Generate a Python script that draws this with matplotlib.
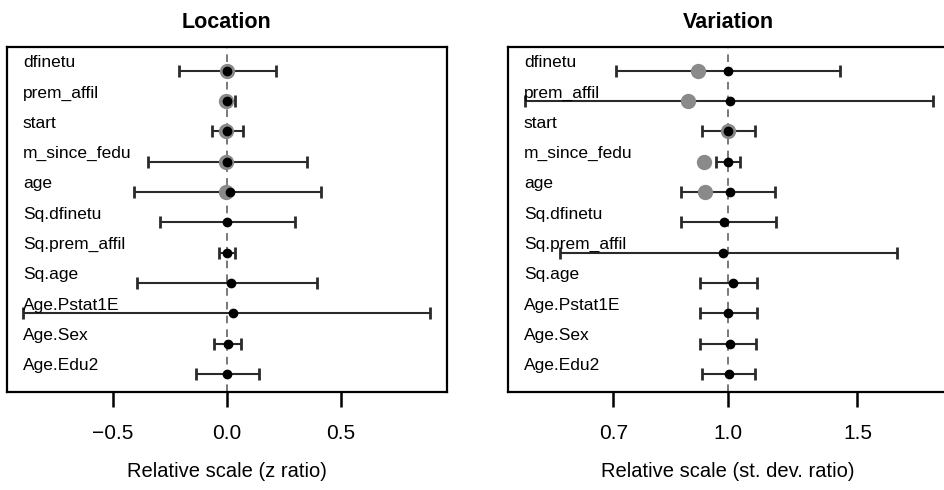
import numpy as np
import matplotlib
matplotlib.use('Agg')
import matplotlib.pyplot as plt
import matplotlib.transforms as mtransforms

plt.rcParams['font.family'] = ['Liberation Sans', 'DejaVu Sans']

labels = ['dfinetu', 'prem_affil', 'start', 'm_since_fedu', 'age', 'Sq.dfinetu',
          'Sq.prem_affil', 'Sq.age', 'Age.Pstat1E', 'Age.Sex', 'Age.Edu2']

# Location panel (z ratio)
loc_est = [0.0, 0.002, 0.0, 0.0, 0.013, 0.0, 0.0, 0.019, 0.025, 0.004, 0.0]
loc_lo = [-0.21, -0.005, -0.066, -0.348, -0.408, -0.294, -0.034, -0.393, -0.895, -0.057, -0.136]
loc_hi = [0.215, 0.035, 0.069, 0.352, 0.411, 0.298, 0.035, 0.396, 0.89, 0.06, 0.14]
loc_ref = [0.0, -0.005, -0.003, -0.003, -0.004]

# Variation panel (st. dev. ratio)
var_est = [1.0, 1.007, 1.0, 1.0, 1.009, 0.989, 0.985, 1.017, 1.0, 1.007, 1.005]
var_lo = [0.706, 0.531, 0.922, 0.966, 0.866, 0.865, 0.593, 0.917, 0.917, 0.919, 0.922]
var_hi = [1.42, 1.90, 1.091, 1.039, 1.16, 1.163, 1.696, 1.095, 1.097, 1.093, 1.09]
var_ref = [0.912, 0.884, 1.0, 0.929, 0.932]

loc_ticks = [-0.5, 0.0, 0.5]
var_ticks = [0.7, 1.0, 1.5]

W, H = 944, 490
fig = plt.figure(figsize=(W / 100, H / 100), dpi=100)
ax1 = fig.add_axes([7 / W, 98 / H, 440 / W, 345 / H])
ax2 = fig.add_axes([508 / W, 98 / H, 440 / W, 345 / H])

rows = np.arange(1, len(labels) + 1)


def panel(ax, est, lo, hi, ref, center, title, xlabel):
    est = np.array(est)
    err = [est - np.array(lo), np.array(hi) - est]
    ax.axvline(center, color='#555555', lw=1.1, ls=(0, (5, 4)), zorder=1)
    ax.errorbar(est, rows, xerr=err, fmt='none', ecolor='#2a2a2a', elinewidth=1.5,
                capsize=4, capthick=2, zorder=2)
    ax.plot(ref, rows[:len(ref)], 'o', color='#8a8a8a', ms=10, zorder=3)
    ax.plot(est, rows, 'o', color='black', ms=6, zorder=4)
    trans = mtransforms.blended_transform_factory(ax.transAxes, ax.transData)
    for r, lab in zip(rows, labels):
        ax.text(0.036, r - 0.12, lab, transform=trans, fontsize=12.5, va='baseline', ha='left')
    ax.set_ylim(11.59, 0.22)
    ax.set_yticks([])
    ax.set_title(title, fontsize=15.5, fontweight='bold', pad=14)
    ax.set_xlabel(xlabel, fontsize=14.5, labelpad=14)
    ax.tick_params(axis='x', length=11, width=1.8, labelsize=15, pad=12, direction='out')
    for s in ax.spines.values():
        s.set_linewidth(1.6)


panel(ax1, loc_est, loc_lo, loc_hi, loc_ref, 0.0, 'Location', 'Relative scale (z ratio)')
ax1.set_xlim(-0.965, 0.965)
ax1.set_xticks(loc_ticks, ['\u22120.5', '0.0', '0.5'])

panel(ax2, var_est, var_lo, var_hi, var_ref, 1.0, 'Variation', 'Relative scale (st. dev. ratio)')
ax2.set_xscale('log')
ax2.set_xlim(0.504, 1.99)
ax2.set_xticks(var_ticks, ['0.7', '1.0', '1.5'])
ax2.minorticks_off()

fig.savefig('out.png', dpi=100)
